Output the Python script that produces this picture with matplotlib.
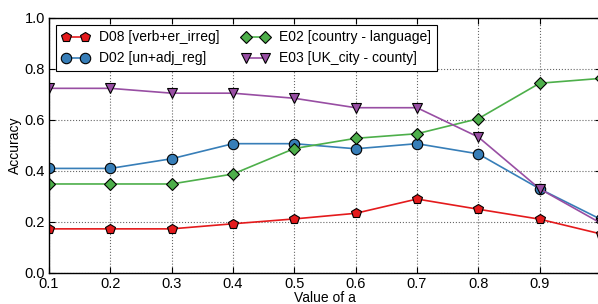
import matplotlib
matplotlib.use('Agg')
import matplotlib.pyplot as plt

plt.rcParams['font.family'] = ['Liberation Sans', 'DejaVu Sans']

a = [0.1, 0.2, 0.3, 0.4, 0.5, 0.6, 0.7, 0.8, 0.9, 1.0]

d08 = [0.173, 0.173, 0.173, 0.193, 0.212, 0.234, 0.290, 0.250, 0.211, 0.153]   # verb+er_irreg
d02 = [0.410, 0.410, 0.448, 0.507, 0.507, 0.487, 0.507, 0.467, 0.330, 0.210]   # un+adj_reg
e02 = [0.349, 0.349, 0.349, 0.388, 0.488, 0.528, 0.546, 0.605, 0.744, 0.763]   # country - language
e03 = [0.724, 0.724, 0.705, 0.705, 0.685, 0.648, 0.648, 0.533, 0.330, 0.195]   # UK_city - county

fig = plt.figure(figsize=(5.98, 3.04), dpi=100)
ax = fig.add_axes([0.0819, 0.102, 0.9231, 0.839])

ax.plot(a, d08, color='#e41a1c', marker='p', markersize=7.5, markeredgecolor='black',
        markeredgewidth=0.8, lw=1.2, label='D08 [verb+er_irreg]')
ax.plot(a, d02, color='#377eb8', marker='o', markersize=7.5, markeredgecolor='black',
        markeredgewidth=0.8, lw=1.2, label='D02 [un+adj_reg]')
ax.plot(a, e02, color='#4daf4a', marker='D', markersize=6.5, markeredgecolor='black',
        markeredgewidth=0.8, lw=1.2, label='E02 [country - language]')
ax.plot(a, e03, color='#984ea3', marker='v', markersize=7.5, markeredgecolor='black',
        markeredgewidth=0.8, lw=1.2, label='E03 [UK_city - county]')

ax.set_xlim(0.1, 1.0)
ax.set_ylim(0.0, 1.0)
ax.set_xticks([0.1, 0.2, 0.3, 0.4, 0.5, 0.6, 0.7, 0.8, 0.9])
ax.set_yticks([0.0, 0.2, 0.4, 0.6, 0.8, 1.0])
ax.tick_params(direction='in', top=True, right=True, labelsize=10.5, length=4, width=0.8, pad=3)
ax.grid(True, linestyle=':', color='black', alpha=0.6, lw=0.8)
for s in ax.spines.values():
    s.set_linewidth(1.0)

ax.set_xlabel('Value of a', fontsize=10, labelpad=0)
ax.set_ylabel('Accuracy', fontsize=10, labelpad=2)

leg = ax.legend(loc='upper left', ncol=2, numpoints=2, fontsize=10, fancybox=False,
                framealpha=1, edgecolor='black', borderaxespad=0.5, columnspacing=1.6,
                handlelength=2.0, handletextpad=0.7)
leg.get_frame().set_linewidth(0.8)

fig.savefig('out.png', dpi=100)
